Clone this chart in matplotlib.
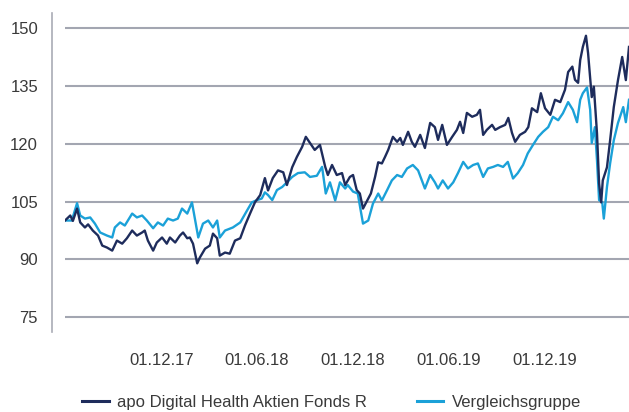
import matplotlib.pyplot as plt
import pandas as pd
from matplotlib import font_manager

start = pd.Timestamp('2017-05-31')
end_day = 1075

# Fonds (Tage ab Start, Wert)
fund_days = [0, 10, 15, 23, 29, 38, 44, 53, 63, 71,
             80, 90, 99, 109, 118, 128, 137, 147, 152, 158,
             168, 175, 185, 194, 200, 210, 219, 225, 233, 238,
             244, 252, 257, 267, 276, 282, 290, 295, 305, 314,
             324, 334, 343, 353, 362, 372, 381, 387, 396, 406,
             416, 423, 433, 442, 452, 459, 467, 476, 486, 496,
             501, 509, 518, 528, 534, 543, 549, 556, 562, 568,
             576, 583, 591, 597, 604, 610, 616, 625, 633, 639,
             644, 654, 661, 667, 677, 686, 696, 705, 711, 719,
             728, 738, 747, 753, 759, 766, 776, 785, 791, 797,
             804, 814, 820, 829, 839, 845, 852, 858, 867, 877,
             883, 890, 900, 907, 915, 925, 934, 944, 953, 959,
             967, 972, 978, 982, 987, 993, 997, 1004, 1008, 1014,
             1018, 1022, 1025, 1033, 1039, 1046, 1054, 1062, 1069, 1075]
fund = [100.1, 101.4, 100.0, 103.2, 99.6, 98.3, 99.1, 97.5, 96.2, 93.6,
        93.1, 92.3, 94.9, 94.1, 95.5, 97.5, 96.2, 97.0, 97.5, 94.9,
        92.3, 94.4, 95.7, 94.1, 95.7, 94.4, 96.2, 97.0, 95.5, 95.7,
        94.1, 89.0, 90.5, 92.8, 93.6, 96.7, 95.5, 91.0, 91.8, 91.5,
        94.9, 95.5, 98.8, 102.0, 104.8, 106.7, 111.1, 107.9, 111.1, 113.1,
        112.6, 109.3, 113.9, 116.6, 119.2, 121.8, 120.2, 118.4, 119.7, 114.0,
        111.9, 114.5, 111.9, 112.4, 109.3, 111.4, 111.9, 108.0, 107.1, 103.2,
        105.3, 107.1, 111.4, 115.2, 114.9, 116.6, 118.4, 121.8, 120.5, 121.5,
        119.7, 123.1, 120.5, 119.2, 122.3, 118.9, 125.4, 124.3, 121.0, 124.9,
        119.7, 121.8, 123.6, 125.7, 122.8, 128.0, 127.0, 127.5, 128.8, 122.3,
        123.6, 124.9, 123.6, 124.3, 124.9, 126.7, 122.8, 120.5, 122.3, 123.1,
        124.3, 129.2, 128.2, 133.1, 129.2, 127.5, 131.4, 130.8, 134.0, 138.6,
        140.0, 136.6, 135.8, 141.7, 145.1, 148.0, 143.5, 132.1, 134.8, 122.7,
        109.7, 104.8, 110.5, 113.9, 120.9, 129.5, 136.5, 142.5, 136.5, 145.1]

# Vergleichsgruppe
peer_days = [0, 13, 23, 29, 38, 48, 57, 67, 80, 90,
             95, 105, 114, 128, 137, 147, 156, 168, 177, 187,
             196, 206, 215, 223, 233, 242, 254, 263, 273, 282,
             290, 295, 305, 320, 334, 347, 356, 366, 375, 381,
             387, 395, 404, 414, 423, 433, 444, 457, 467, 480,
             490, 497, 505, 515, 524, 534, 539, 549, 558, 568,
             578, 587, 597, 604, 614, 623, 633, 642, 652, 663,
             673, 686, 696, 705, 711, 720, 730, 740, 749, 759,
             768, 778, 787, 797, 806, 816, 825, 835, 844, 854,
             863, 873, 882, 892, 902, 911, 921, 930, 940, 949,
             959, 968, 976, 982, 987, 995, 1001, 1004, 1010, 1014,
             1018, 1024, 1027, 1033, 1039, 1046, 1054, 1064, 1069, 1075]
peer = [100.1, 100.1, 104.6, 101.4, 100.6, 100.9, 99.3, 97.0, 96.2, 95.7,
        98.3, 99.6, 98.8, 101.9, 100.9, 101.4, 100.1, 98.1, 99.6, 98.8,
        100.6, 100.1, 100.6, 103.2, 101.9, 104.8, 95.7, 99.3, 100.1, 98.3,
        100.1, 95.7, 97.5, 98.3, 99.6, 102.7, 104.8, 105.4, 105.8, 107.4,
        106.7, 105.4, 108.0, 108.8, 110.0, 111.4, 112.4, 112.6, 111.4, 111.7,
        114.0, 107.1, 110.0, 105.3, 110.0, 108.4, 109.3, 107.6, 107.1, 99.3,
        100.1, 104.5, 107.1, 105.3, 108.0, 110.5, 111.9, 111.4, 113.6, 114.5,
        113.1, 108.4, 111.9, 110.0, 108.4, 110.5, 108.4, 110.0, 112.4, 115.3,
        113.6, 114.5, 114.9, 111.4, 113.6, 114.0, 114.5, 114.0, 115.3, 111.0,
        112.4, 114.5, 117.5, 119.7, 121.8, 123.1, 124.3, 127.0, 126.1, 127.9,
        130.8, 128.8, 125.6, 131.4, 133.1, 134.6, 128.8, 120.2, 124.3, 115.7,
        105.4, 104.8, 100.6, 108.8, 114.9, 120.9, 125.4, 129.5, 125.6, 131.4]

tick_dates = ['2017-12-01', '2018-06-01', '2018-12-01', '2019-06-01', '2019-12-01']
y_ticks = [75, 90, 105, 120, 135, 150]
labels = ['apo Digital Health Aktien Fonds R', 'Vergleichsgruppe']

names = {f.name for f in font_manager.fontManager.ttflist}
plt.rcParams['font.family'] = 'Liberation Sans' if 'Liberation Sans' in names else 'DejaVu Sans'

dark = '#1e2c5c'
light = '#1ba1d8'
txt = '#3a3a3a'

fund_x = start + pd.to_timedelta(fund_days, unit='D')
peer_x = start + pd.to_timedelta(peer_days, unit='D')

fig = plt.figure(figsize=(6.29, 4.12), dpi=100)
ax = fig.add_axes([65 / 629, 1 - 332 / 412, (629 - 65) / 629, (332 - 13) / 412])

l2, = ax.plot(peer_x, peer, color=light, lw=1.7, label=labels[1])
l1, = ax.plot(fund_x, fund, color=dark, lw=1.7, label=labels[0])

ax.set_xlim(start, start + pd.Timedelta(days=end_day))
ax.set_ylim(71.2, 153.9)
ax.set_yticks(y_ticks)
ax.set_xticks(pd.to_datetime(tick_dates))
ax.set_xticklabels([pd.Timestamp(d).strftime('%d.%m.%y') for d in tick_dates])

ax.grid(axis='y', color='#a3a6b1', lw=1.5)
ax.set_axisbelow(True)
for s in ['top', 'right', 'bottom']:
    ax.spines[s].set_visible(False)
ax.spines['left'].set_position(('outward', 9.4))
ax.spines['left'].set_color('#a9abb5')
ax.spines['left'].set_linewidth(1.2)

ax.tick_params(axis='y', length=0, pad=10, labelsize=12, labelcolor=txt)
ax.tick_params(axis='x', length=0, pad=15, labelsize=12, labelcolor=txt)

leg = fig.legend([l1, l2], labels, loc='center', bbox_to_anchor=(0.527, 0.024), ncol=2,
                 frameon=False, fontsize=12, handlelength=1.6, handletextpad=0.5,
                 columnspacing=3.0)
for t in leg.get_texts():
    t.set_color(txt)
for h in leg.get_lines():
    h.set_linewidth(2.2)

fig.savefig('out.png', dpi=100)
